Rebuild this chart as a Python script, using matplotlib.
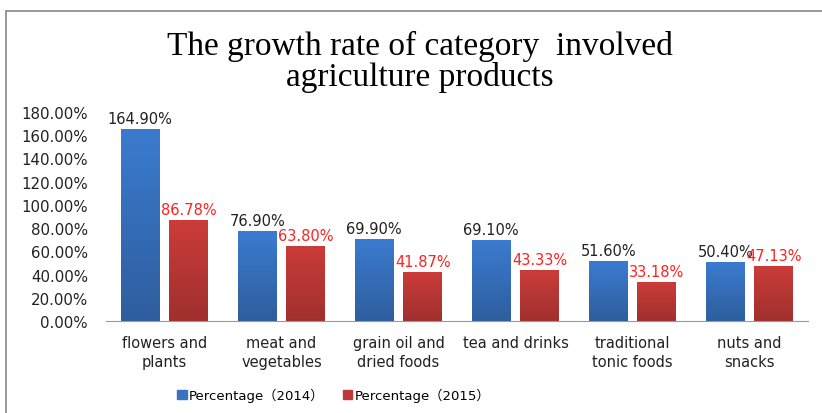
import matplotlib.pyplot as plt
import numpy as np
from matplotlib.patches import Rectangle

categories = ['flowers and\nplants', 'meat and\nvegetables', 'grain oil and\ndried foods',
              'tea and drinks', 'traditional\ntonic foods', 'nuts and\nsnacks']
pct_2014 = [164.90, 76.90, 69.90, 69.10, 51.60, 50.40]
pct_2015 = [86.78, 63.80, 41.87, 43.33, 33.18, 47.13]
yticks = [0, 20, 40, 60, 80, 100, 120, 140, 160, 180]

W, H = 822, 414
fig = plt.figure(figsize=(W / 100, H / 100), dpi=100)

# outer chart border (runs off right/bottom edges)
fig.patches.append(Rectangle((6 / W, -0.1), 1.2, (H - 12) / H + 0.1, transform=fig.transFigure,
                             fill=False, edgecolor='#888888', linewidth=1.2))

ax = fig.add_axes([106 / W, (H - 322) / H, (808 - 106) / W, (322 - 113) / H])
x = np.arange(len(categories))
bw = 0.333
off = 0.207


def grad_bar(xc, h, top, bottom):
    # vertical gradient, lighter at the top
    g = np.linspace(0, 1, 64).reshape(-1, 1)
    c0 = np.array(plt.matplotlib.colors.to_rgb(bottom))
    c1 = np.array(plt.matplotlib.colors.to_rgb(top))
    img = c0 + (c1 - c0) * g[..., None]
    ax.imshow(img, extent=[xc - bw / 2, xc + bw / 2, 0, h], origin='lower',
              aspect='auto', zorder=2, interpolation='bilinear')


for i in range(len(categories)):
    grad_bar(x[i] - off, pct_2014[i], '#3b7bcf', '#2e5e9e')
    grad_bar(x[i] + off, pct_2015[i], '#cb3c39', '#a0302e')
    ax.text(x[i] - off, pct_2014[i] + 3, f'{pct_2014[i]:.2f}%', ha='center', va='bottom',
            fontsize=10.5, color='#222222')
    ax.text(x[i] + off, pct_2015[i] + 3, f'{pct_2015[i]:.2f}%', ha='center', va='bottom',
            fontsize=10.5, color='#ff2020')

ax.set_xlim(-0.5, len(categories) - 0.5)
ax.set_ylim(0, 180)
ax.set_yticks(yticks)
ax.set_yticklabels([f'{v:.2f}%' for v in yticks], fontsize=10.8, color='#222222')
ax.set_xticks(x)
ax.set_xticklabels(categories, fontsize=10.5, color='#222222', linespacing=1.35)
ax.tick_params(axis='y', length=0, pad=13)
ax.tick_params(axis='x', length=0, pad=10)
for s in ['top', 'right', 'left']:
    ax.spines[s].set_visible(False)
ax.spines['bottom'].set_color('#999999')

fig.text(0.511, (H - 62) / H, 'The growth rate of category  involved\nagriculture products',
         ha='center', va='center', fontsize=24, family='Liberation Serif', linespacing=1.02)

# legend
handles = [Rectangle((0, 0), 1, 1, color='#3a74c0'), Rectangle((0, 0), 1, 1, color='#c0393a')]
fig.legend(handles, ['Percentage（2014）', 'Percentage（2015）'], loc='center',
           bbox_to_anchor=(334 / W, (H - 396) / H), ncol=2, frameon=False, handlelength=0.7,
           handleheight=0.7, handletextpad=0.2, columnspacing=1.4,
           prop={'family': ['DejaVu Sans', 'Noto Sans CJK SC'], 'size': 9.5})

fig.savefig('out.png', dpi=100)
